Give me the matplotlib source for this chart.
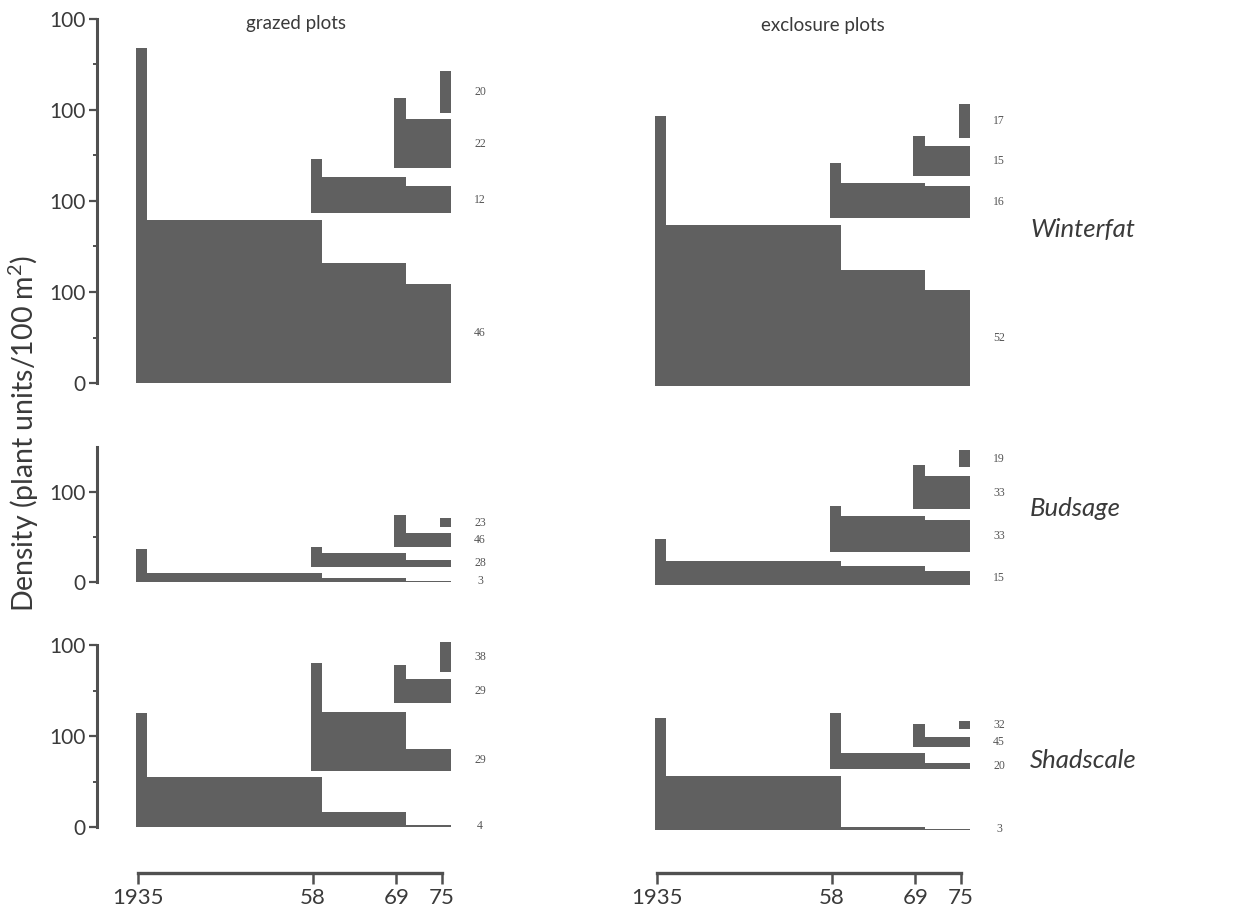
"""
Cohort density diagrams for winterfat, budsage and shadscale
in grazed and exclosure plots (1935, 1958, 1969, 1975 censuses).
"""

import numpy as np
import matplotlib.pyplot as plt

plt.rcParams['font.family'] = ['Lato', 'DejaVu Sans']
plt.rcParams['mathtext.default'] = 'regular'

# census years
census = [1935, 1958, 1969, 1975]
year_ticks = ['1935', '58', '69', '75']

# each panel: base of every cohort, heights of each cohort at its censuses,
# and the number printed to the right of the cohort
wf_grazed_base = [0, 187, 236, 297]
wf_grazed_h = [[368, 179, 132, 109], [59, 39, 29], [77, 54], [46]]
wf_grazed_lbl = [46, 12, 22, 20]

wf_excl_base = [0, 185, 231, 273]
wf_excl_h = [[297, 177, 127, 105], [60, 38, 35], [44, 33], [37]]
wf_excl_lbl = [52, 16, 15, 17]

bs_grazed_base = [0, 17, 39, 61]
bs_grazed_h = [[37, 10, 4.5, 1.2], [22, 15, 7.5], [35, 15], [10]]
bs_grazed_lbl = [3, 28, 46, 23]

bs_excl_base = [0, 37, 84, 131]
bs_excl_h = [[51, 27, 21, 16], [51, 40, 35], [49, 37], [19]]
bs_excl_lbl = [15, 33, 33, 19]

sh_grazed_base = [0, 61.5, 136, 170]
sh_grazed_h = [[125, 55, 16.5, 2], [118.5, 64.5, 24.5], [42, 27], [33]]
sh_grazed_lbl = [4, 29, 29, 38]

sh_excl_base = [0, 67, 91, 111]
sh_excl_h = [[123, 59, 3, 1.2], [61.5, 17.6, 6.6], [25, 11], [9]]
sh_excl_lbl = [3, 20, 45, 32]

species = ['Winterfat', 'Budsage', 'Shadscale']
columns = ['grazed plots', 'exclosure plots']

BAR = '#606060'
AX = '#505050'
TXT = '#3a3a3a'
W, H = 1244, 915

fig = plt.figure(figsize=(W / 100, H / 100), dpi=100)


def px_axes(left, top, width, height):
    return fig.add_axes([left / W, 1 - (top + height) / H, width / W, height / H])


XLO, XHI = 1929.6, 1981.0
PPY = 7.6
col_x0 = [138, 657]          # pixel of 1935 in each column
col_dy = [0, 3]              # exclosure column sits a touch lower in the scan

# row: (pixel of zero, px per unit, ylo, yhi, axis top, ticks, labels)
rows = [
    (383, 0.91, -10, 415, 400, [0, 100, 200, 300, 400],
     ['0', '100', '100', '100', '100']),
    (582, 0.90, -10, 160, 150, [0, 100], ['0', '100']),
    (827, 0.91, -10, 215, 200, [0, 100, 200], ['0', '100', '100']),
]

panels = [
    [(wf_grazed_base, wf_grazed_h, wf_grazed_lbl), (wf_excl_base, wf_excl_h, wf_excl_lbl)],
    [(bs_grazed_base, bs_grazed_h, bs_grazed_lbl), (bs_excl_base, bs_excl_h, bs_excl_lbl)],
    [(sh_grazed_base, sh_grazed_h, sh_grazed_lbl), (sh_excl_base, sh_excl_h, sh_excl_lbl)],
]

for r, (y0, ppu, ylo, yhi, ytop, yt, ytl) in enumerate(rows):
    for c in range(2):
        left = col_x0[c] + (XLO - 1935) * PPY
        top = y0 + col_dy[c] - yhi * ppu
        ax = px_axes(left, top, (XHI - XLO) * PPY, (yhi - ylo) * ppu)
        ax.set_xlim(XLO, XHI)
        ax.set_ylim(ylo, yhi)
        for s in ['top', 'right', 'bottom']:
            ax.spines[s].set_visible(False)
        ax.set_xticks([])

        bases, heights, labels = panels[r][c]
        for k, (base, h, lbl) in enumerate(zip(bases, heights, labels)):
            start = census[k]
            edges = [start - 0.3] + [yr + 1.2 for yr in census[k:]]
            ax.stairs(base + np.array(h, dtype=float), edges, baseline=base,
                      fill=True, color=BAR, linewidth=0)
            ax.text(1980, base + h[-1] / 2, str(lbl), ha='center', va='center',
                    family='Liberation Serif', fontsize=8.5, color='#555555',
                    clip_on=False)

        if c == 0:
            sp = ax.spines['left']
            sp.set_bounds(0, ytop)
            sp.set_linewidth(2.2)
            sp.set_color(AX)
            ax.set_yticks(yt)
            ax.set_yticklabels(ytl)
            ax.set_yticks(np.arange(50, ytop, 100), minor=True)
            ax.tick_params(axis='y', which='major', length=6, width=1.6,
                           color=AX, labelsize=15, pad=2, labelcolor=TXT)
            ax.tick_params(axis='y', which='minor', length=3, width=1.4, color=AX)
        else:
            ax.spines['left'].set_visible(False)
            ax.set_yticks([])

# time axes under each column
for c in range(2):
    left = col_x0[c] + (XLO - 1935) * PPY
    axx = px_axes(left, 863, (XHI - XLO) * PPY, 10)
    axx.set_xlim(XLO, XHI)
    axx.set_ylim(0, 1)
    for s in ['top', 'right', 'left']:
        axx.spines[s].set_visible(False)
    axx.spines['bottom'].set_bounds(census[0], census[-1])
    axx.spines['bottom'].set_linewidth(2.4)
    axx.spines['bottom'].set_color(AX)
    axx.set_yticks([])
    axx.set_xticks(census)
    axx.set_xticklabels(year_ticks)
    axx.tick_params(axis='x', length=8, width=1.8, color=AX, labelsize=16,
                    pad=3, labelcolor=TXT)

# column headings
fig.text(296 / W, 1 - 24 / H, columns[0], ha='center', va='center',
         fontsize=13.5, color=TXT)
fig.text(823 / W, 1 - 26 / H, columns[1], ha='center', va='center',
         fontsize=13.5, color=TXT)

# species names
for name, yp in zip(species, [230, 508, 760]):
    fig.text(1030 / W, 1 - yp / H, name, ha='left', va='center',
             fontsize=18.5, style='italic', color=TXT)

fig.text(24 / W, 1 - 433 / H, 'Density (plant units/100 m$^2$)',
         rotation=90, ha='center', va='center', fontsize=20.5, color=TXT)

fig.savefig('out.png', dpi=100)
